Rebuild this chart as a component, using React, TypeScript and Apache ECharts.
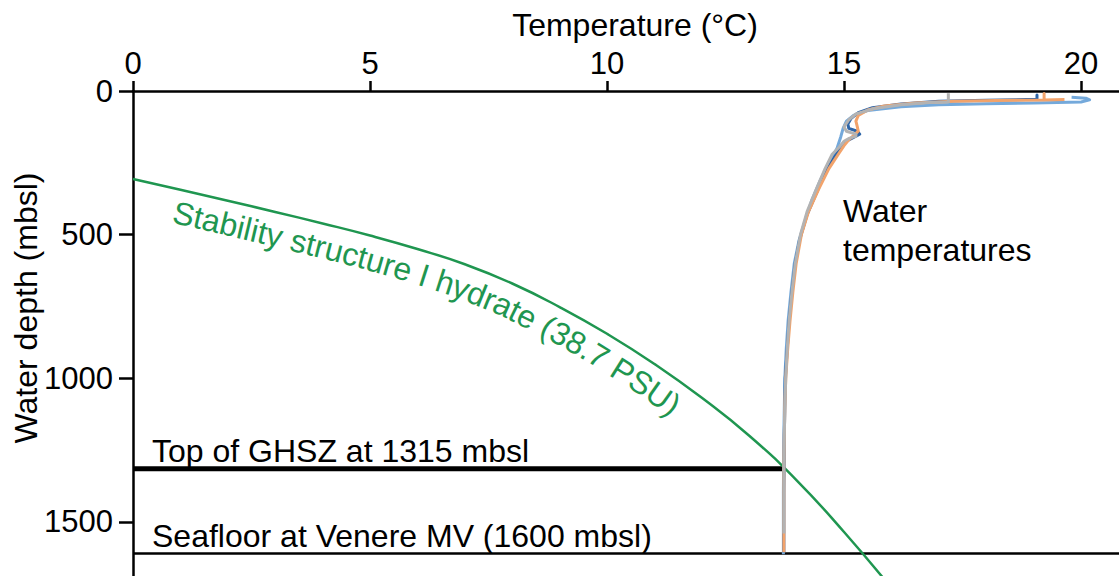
import React, { useEffect, useRef } from "react";
import * as echarts from "echarts";

// ---- axes ----
const xTicks = [0, 5, 10, 15, 20];
const yTicks = [0, 500, 1000, 1500];
const xMax = 20.8;
const yMax = 1688;

// ---- hydrate stability curve (structure I, 38.7 PSU) ----
const hydrateTemp = [0, 1, 2, 3, 4, 5, 6, 7, 8, 9, 10, 11, 12, 13, 14, 15, 16];
const hydrateDepth = [306, 344, 382, 421, 461, 503, 550, 603, 670, 752, 845, 950, 1068, 1200, 1355, 1535, 1730];

// ---- reference levels ----
const ghszDepth = 1315;
const ghszTemp = 13.75;
const seafloorDepth = 1610;

// ---- water temperature profiles ----
const lightBlueDepth = [22, 25, 31, 38, 42, 44, 48, 55, 68, 85, 105, 130, 160, 200, 250, 310, 380, 450, 520, 600, 700, 800, 900, 1000, 1200, 1400, 1612];
const lightBlueTemp = [19.8, 20.1, 20.18, 20.0, 19.0, 18.0, 17.0, 16.2, 15.5, 15.2, 15.05, 14.98, 14.93, 14.85, 14.68, 14.5, 14.32, 14.18, 14.05, 13.95, 13.88, 13.82, 13.78, 13.75, 13.73, 13.72, 13.72];

const darkBlueDepth = [29, 14, 29, 32, 36, 45, 58, 75, 95, 115, 130, 140, 150, 160, 175, 200, 230, 280, 350, 430, 520, 600, 700, 800, 900, 1000, 1200, 1400, 1605];
const darkBlueTemp = [19.07, 19.07, 19.07, 18.0, 17.0, 16.2, 15.6, 15.3, 15.15, 15.08, 15.1, 15.28, 15.33, 15.22, 15.05, 14.92, 14.8, 14.62, 14.43, 14.22, 14.06, 13.97, 13.9, 13.84, 13.8, 13.76, 13.74, 13.73, 13.73];

const orangeDepth = [30, 31, 9, 31, 33, 36, 42, 52, 66, 85, 105, 125, 140, 155, 170, 190, 215, 270, 340, 420, 500, 600, 700, 800, 900, 1000, 1100, 1200, 1300, 1400, 1500, 1605];
const orangeTemp = [19.65, 19.22, 19.22, 19.22, 18.2, 17.3, 16.5, 15.85, 15.5, 15.3, 15.25, 15.28, 15.3, 15.2, 15.1, 15.0, 14.9, 14.68, 14.47, 14.25, 14.1, 13.99, 13.92, 13.86, 13.81, 13.77, 13.75, 13.74, 13.73, 13.73, 13.73, 13.73];

const grayDepth = [8, 38, 40, 48, 62, 80, 100, 125, 140, 150, 158, 165, 175, 195, 220, 270, 340, 420, 500, 600, 700, 800, 900, 1000, 1100, 1200, 1300, 1400, 1540];
const grayTemp = [17.2, 17.2, 16.8, 16.2, 15.6, 15.25, 15.1, 15.0, 15.05, 15.25, 15.25, 15.1, 15.0, 14.9, 14.75, 14.6, 14.42, 14.22, 14.08, 13.97, 13.9, 13.84, 13.8, 13.77, 13.75, 13.74, 13.73, 13.73, 13.73];

// ---- texts ----
const xTitle = "Temperature (°C)";
const yTitle = "Water depth (mbsl)";
const curveLabel = "Stability structure I hydrate (38.7 PSU)";
const waterLabel1 = "Water";
const waterLabel2 = "temperatures";
const ghszLabel = "Top of GHSZ at 1315 mbsl";
const seafloorLabel = "Seafloor at Venere MV (1600 mbsl)";

const FONT = '"Liberation Sans", Arial, sans-serif';
const FS = 32;
const TICK_FS = 31;
const GREEN = "#1f9650";

const zip = (xs: number[], ys: number[]) => xs.map((x, i) => [x, ys[i]]);

const lineSeries = (name: string, data: number[][], color: string, width: number, z: number, smooth: any = false) => ({
  type: "line",
  name,
  data,
  symbol: "none",
  smooth,
  silent: true,
  clip: true,
  z,
  lineStyle: { color, width, cap: "butt", join: "round" },
  itemStyle: { color },
});

function buildOption() {
  return {
    animation: false,
    backgroundColor: "#ffffff",
    grid: { left: 133, top: 91, right: 0, bottom: 0, containLabel: false, outerBoundsMode: "none" },
    xAxis: {
      type: "value",
      position: "top",
      min: 0,
      max: xMax,
      interval: 5,
      axisLine: { show: true, onZero: false, lineStyle: { color: "#000", width: 2.5 } },
      axisTick: { show: true, length: 10, lineStyle: { color: "#000", width: 2.5 }, customValues: xTicks },
      axisLabel: { fontSize: TICK_FS, fontFamily: FONT, color: "#000", margin: 12, customValues: xTicks, formatter: (v: number) => String(v) },
      splitLine: { show: false },
    },
    yAxis: {
      type: "value",
      inverse: true,
      min: 0,
      max: yMax,
      interval: 500,
      axisLine: { show: true, onZero: false, lineStyle: { color: "#000", width: 2.5 } },
      axisTick: { show: true, length: 14, lineStyle: { color: "#000", width: 2.5 }, customValues: yTicks },
      axisLabel: { fontSize: TICK_FS, fontFamily: FONT, color: "#000", margin: 20, customValues: yTicks, formatter: (v: number) => String(v) },
      splitLine: { show: false },
    },
    series: [
      lineSeries("Seafloor", [[0, seafloorDepth], [xMax, seafloorDepth]], "#000", 2.5, 2),
      lineSeries("Top of GHSZ", [[0, ghszDepth], [ghszTemp, ghszDepth]], "#000", 5, 2),
      lineSeries("Hydrate stability", zip(hydrateTemp, hydrateDepth), GREEN, 2.5, 3, 0.5),
      lineSeries("Profile 1", zip(lightBlueTemp, lightBlueDepth), "#74a9db", 3, 4),
      lineSeries("Profile 2", zip(darkBlueTemp, darkBlueDepth), "#2e65a8", 3, 5),
      lineSeries("Profile 3", zip(orangeTemp, orangeDepth), "#f2a36b", 3, 6),
      lineSeries("Profile 4", zip(grayTemp, grayDepth), "#b3b3b3", 3, 7),
    ],
  };
}

function curvedText(chart: any) {
  const pts = hydrateTemp.map((t, i) => chart.convertToPixel({ gridIndex: 0 }, [t, hydrateDepth[i]]) as number[]);
  const dense: number[][] = [];
  for (let i = 0; i < pts.length - 1; i++) {
    const [x0, y0] = pts[i];
    const [x1, y1] = pts[i + 1];
    const n = Math.max(1, Math.ceil(Math.hypot(x1 - x0, y1 - y0) / 2));
    for (let k = 0; k < n; k++) dense.push([x0 + ((x1 - x0) * k) / n, y0 + ((y1 - y0) * k) / n]);
  }
  dense.push(pts[pts.length - 1]);
  const W = 15;
  const tan = (i: number) => {
    const a = dense[Math.max(0, i - W)];
    const b = dense[Math.min(dense.length - 1, i + W)];
    const dx = b[0] - a[0];
    const dy = b[1] - a[1];
    const L = Math.hypot(dx, dy) || 1;
    return [dx / L, dy / L];
  };
  const OFF = 23;
  const off = dense.map((p, i) => {
    const [tx, ty] = tan(i);
    return [p[0] - ty * OFF, p[1] + tx * OFF];
  });
  const cum = [0];
  for (let i = 1; i < off.length; i++) cum.push(cum[i - 1] + Math.hypot(off[i][0] - off[i - 1][0], off[i][1] - off[i - 1][1]));
  const at = (s: number) => {
    let i = 1;
    while (i < cum.length - 1 && cum[i] < s) i++;
    const s0 = cum[i - 1];
    const s1 = cum[i];
    const f = s1 > s0 ? (s - s0) / (s1 - s0) : 0;
    return [off[i - 1][0] + (off[i][0] - off[i - 1][0]) * f, off[i - 1][1] + (off[i][1] - off[i - 1][1]) * f];
  };
  let sStart = 0;
  for (let i = 0; i < off.length; i++) {
    if (off[i][0] >= 173) {
      sStart = cum[i];
      break;
    }
  }
  const canvas = document.createElement("canvas");
  const ctx = canvas.getContext("2d")!;
  ctx.font = `${FS}px "Liberation Sans"`;
  const els: any[] = [];
  let s = sStart;
  for (const ch of curveLabel) {
    const w = ctx.measureText(ch).width;
    const c = s + w / 2;
    const p = at(c);
    const a = at(c - 10);
    const b = at(c + 10);
    const ang = Math.atan2(b[1] - a[1], b[0] - a[0]);
    if (ch !== " ") {
      els.push({
        type: "text",
        x: p[0],
        y: p[1],
        rotation: -ang,
        silent: true,
        z: 10,
        style: { text: ch, fill: GREEN, fontSize: FS, fontFamily: FONT, align: "center", verticalAlign: "middle" },
      });
    }
    s += w;
  }
  return els;
}

function staticTexts() {
  const t = (text: string, x: number, y: number, extra: any = {}) => ({
    type: "text",
    x,
    y,
    silent: true,
    z: 10,
    ...extra,
    style: { text, fill: "#000", fontSize: FS, fontFamily: FONT, align: "left", verticalAlign: "middle", ...(extra.style || {}) },
  });
  return [
    t(xTitle, 635, 25, { style: { align: "center" } }),
    t(yTitle, 26, 308, { rotation: Math.PI / 2, style: { align: "center" } }),
    t(waterLabel1, 843, 211),
    t(waterLabel2, 843, 250),
    t(ghszLabel, 152, 451),
    t(seafloorLabel, 152, 536),
  ];
}

export default function App() {
  const ref = useRef<HTMLDivElement>(null);
  useEffect(() => {
    const chart = echarts.init(ref.current!, null, { renderer: "svg" });
    chart.setOption(buildOption() as any);
    chart.setOption({ graphic: [...staticTexts(), ...curvedText(chart)] } as any);
    return () => chart.dispose();
  }, []);
  return <div ref={ref} style={{ position: "fixed", left: 0, top: 0, width: 1119, height: 576, background: "#fff" }} />;
}
